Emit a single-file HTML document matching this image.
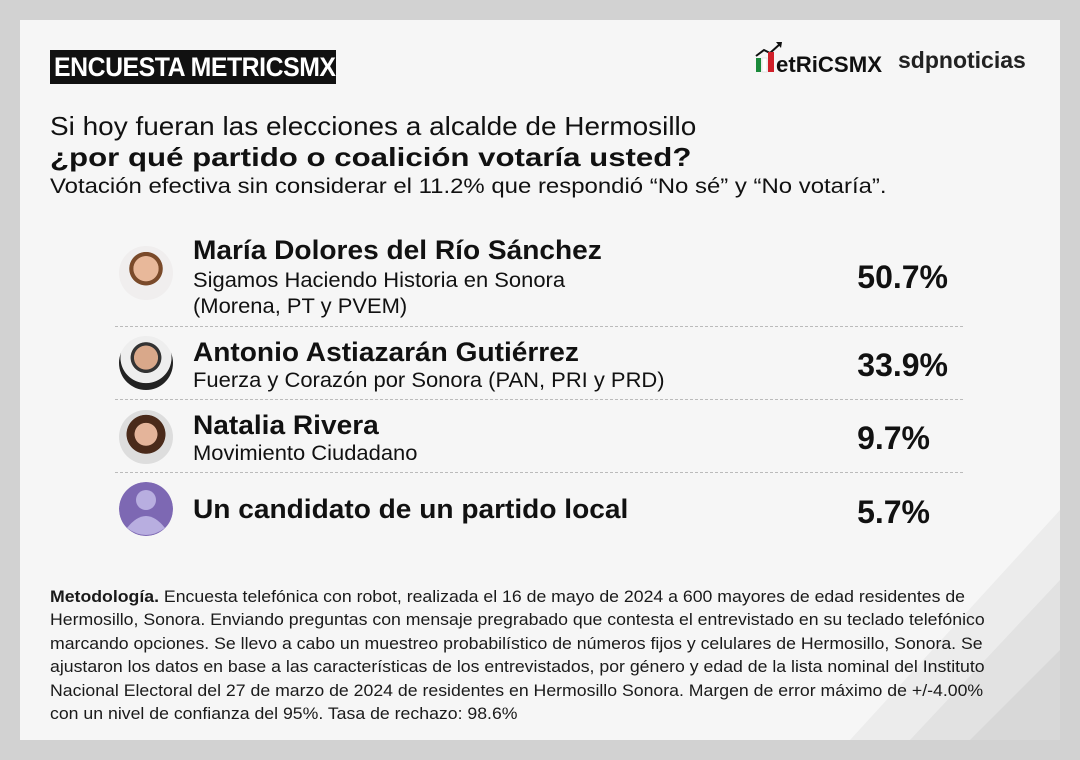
<!DOCTYPE html>
<html><head><meta charset="utf-8"><style>
*{margin:0;padding:0;box-sizing:border-box}
body{width:1080px;height:760px;background:#d2d2d2;position:relative;overflow:hidden;font-family:"Liberation Sans",Arial,sans-serif;color:#111}
#card{position:absolute;left:20px;top:20px;width:1040px;height:720px;background:#f6f6f6;overflow:hidden}
.t{position:absolute;white-space:nowrap;transform-origin:left center}
.av{position:absolute;left:119px;width:54px;height:54px;border-radius:50%;overflow:hidden}
.dl{position:absolute;left:115px;width:848px;border-top:1.5px dashed #bbb}
.nm{font-size:27px;font-weight:bold;transform:scaleX(1.04)}
.sb{font-size:21px;transform:scaleX(1.045)}
.pc{font-size:32px;font-weight:bold;text-align:right;right:132px}
</style></head><body>
<div id="card">
<svg width="1040" height="720" style="position:absolute;left:0;top:0">
<polygon points="1040,490 1040,720 830,720" fill="#ececec"/>
<polygon points="1040,560 1040,720 890,720" fill="#e2e2e2"/>
<polygon points="1040,630 1040,720 950,720" fill="#d8d8d8"/>
</svg>
</div>
<div class="t" style="left:50px;top:50px;width:286px;height:34px;background:#111;color:#fff;font-size:27px;font-weight:bold;line-height:34px;padding-left:4px;letter-spacing:-0.5px"><span style="display:inline-block;transform:scaleX(0.92);transform-origin:left">ENCUESTA METRICSMX</span></div>
<svg class="t" style="left:754px;top:40px" width="130" height="36">
<polyline points="2,16 10,10 16,13 26,4" stroke="#111" stroke-width="2" fill="none"/>
<polygon points="22,2 28,2 27,8" fill="#111"/>
<rect x="2" y="18" width="5" height="14" fill="#1a8a3a"/>
<rect x="8" y="18" width="5" height="14" fill="#fff" stroke="#ccc" stroke-width=".5"/>
<rect x="14" y="12" width="6" height="20" fill="#d0202a"/>
<text x="22" y="32" font-family="Liberation Sans" font-weight="bold" font-size="22" fill="#111" textLength="106" lengthAdjust="spacingAndGlyphs">etRiCSMX</text>
</svg>
<div class="t" style="left:898px;top:47px;font-size:23px;font-weight:bold;color:#222">sdpnoticias</div>
<div class="t" style="left:50px;top:111px;font-size:26px;transform:scaleX(1.075)">Si hoy fueran las elecciones a alcalde de Hermosillo</div>
<div class="t" style="left:50px;top:142px;font-size:26px;font-weight:bold;transform:scaleX(1.2)">¿por qué partido o coalición votaría usted?</div>
<div class="t" style="left:50px;top:175px;font-size:21px;transform:scaleX(1.14)">Votación efectiva sin considerar el 11.2% que respondió “No sé” y “No votaría”.</div>

<div class="av" style="top:246px;background:radial-gradient(circle at 50% 42%,#e8b89a 0 30%,#7a4a2a 31% 40%,#f0eeee 41%)"></div>
<div class="t nm" style="left:193px;top:235px">María Dolores del Río Sánchez</div>
<div class="t sb" style="left:193px;top:269px">Sigamos Haciendo Historia en Sonora</div>
<div class="t sb" style="left:193px;top:295px">(Morena, PT y PVEM)</div>
<div class="t pc" style="top:259px">50.7%</div>
<div class="dl" style="top:326px"></div>

<div class="av" style="top:336px;background:radial-gradient(circle at 50% 40%,#d9a88a 0 28%,#333 29% 36%,#eee 37% 60%,#222 61%)"></div>
<div class="t nm" style="left:193px;top:337px">Antonio Astiazarán Gutiérrez</div>
<div class="t sb" style="left:193px;top:369px">Fuerza y Corazón por Sonora (PAN, PRI y PRD)</div>
<div class="t pc" style="top:347px">33.9%</div>
<div class="dl" style="top:399px"></div>

<div class="av" style="top:410px;background:radial-gradient(circle at 50% 45%,#e4b49a 0 28%,#4a2a1a 29% 48%,#ddd 49%)"></div>
<div class="t nm" style="left:193px;top:410px">Natalia Rivera</div>
<div class="t sb" style="left:193px;top:442px">Movimiento Ciudadano</div>
<div class="t pc" style="top:420px;right:150px">9.7%</div>
<div class="dl" style="top:472px"></div>

<svg class="av" style="top:482px" width="54" height="54" viewBox="0 0 54 54">
<circle cx="27" cy="27" r="27" fill="#7d68b3"/>
<circle cx="27" cy="18" r="10" fill="#b8aee0"/>
<path d="M8,46 Q27,22 46,46 Q27,60 8,46Z" fill="#b8aee0"/>
</svg>
<div class="t nm" style="left:193px;top:494px">Un candidato de un partido local</div>
<div class="t pc" style="top:494px;right:150px">5.7%</div>

<div class="t" style="left:50px;top:585px;font-size:17px;line-height:23.4px;color:#1a1a1a;transform:scaleX(1.04);transform-origin:left top"><b>Metodología.</b> Encuesta telefónica con robot, realizada el 16 de mayo de 2024 a 600 mayores de edad residentes de<br>Hermosillo, Sonora. Enviando preguntas con mensaje pregrabado que contesta el entrevistado en su teclado telefónico<br>marcando opciones. Se llevo a cabo un muestreo probabilístico de números fijos y celulares de Hermosillo, Sonora. Se<br>ajustaron los datos en base a las características de los entrevistados, por género y edad de la lista nominal del Instituto<br>Nacional Electoral del 27 de marzo de 2024 de residentes en Hermosillo Sonora. Margen de error máximo de +/-4.00%<br>con un nivel de confianza del 95%. Tasa de rechazo: 98.6%</div>
</body></html>
